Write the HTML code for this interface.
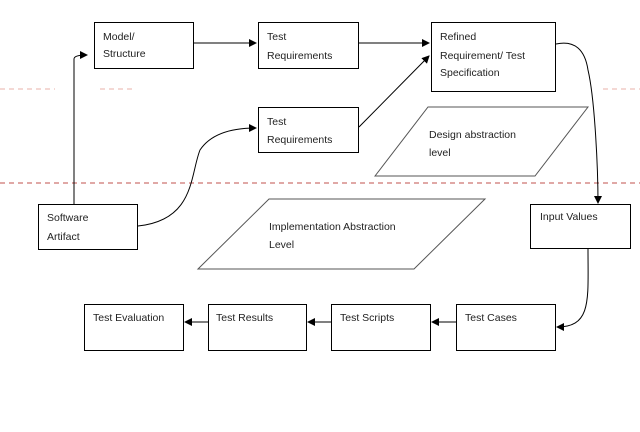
<!DOCTYPE html>
<html><head><style>
body{margin:0;background:#fff;}
svg text{font-family:"Liberation Sans",sans-serif;font-size:10.5px;fill:#222;}
</style></head><body>
<svg width="640" height="427" viewBox="0 0 640 427" xmlns="http://www.w3.org/2000/svg">
<defs><marker id="a" markerWidth="8" markerHeight="8" refX="7" refY="4" orient="auto" markerUnits="userSpaceOnUse"><path d="M0,0 L8,4 L0,8 z" fill="#000"/></marker></defs>
<g stroke="#e8b0a8" stroke-dasharray="5,4" stroke-width="1">
<line x1="0" y1="89" x2="55" y2="89"/><line x1="100" y1="89" x2="135" y2="89"/><line x1="603" y1="89" x2="640" y2="89"/>
</g>
<line x1="0" y1="183" x2="640" y2="183" stroke="#c0504d" stroke-dasharray="5,4" stroke-width="1"/>
<g fill="#fff" stroke="#000" stroke-width="1">
<rect x="94.5" y="22.5" width="99" height="46"/>
<rect x="258.5" y="22.5" width="100" height="46"/>
<rect x="431.5" y="22.5" width="124" height="69"/>
<rect x="258.5" y="107.5" width="100" height="45"/>
<rect x="38.5" y="204.5" width="99" height="45"/>
<rect x="530.5" y="204.5" width="100" height="44"/>
<rect x="84.5" y="304.5" width="99" height="46"/>
<rect x="208.5" y="304.5" width="98" height="46"/>
<rect x="331.5" y="304.5" width="99" height="46"/>
<rect x="456.5" y="304.5" width="99" height="46"/>
<polygon points="375,176 428,107 588,107 535,176" stroke="#555"/>
<polygon points="198,269 269,199 485,199 414,269" stroke="#555"/>
</g>
<g fill="none" stroke="#000" stroke-width="1">
<path d="M74,204 L74,59 Q74,55 87,55" marker-end="url(#a)"/>
<line x1="194" y1="43" x2="256" y2="43" marker-end="url(#a)"/>
<line x1="359" y1="43" x2="429" y2="43" marker-end="url(#a)"/>
<line x1="359" y1="127" x2="429" y2="56" marker-end="url(#a)"/>
<path d="M138,226 C195,220 190,175 200,150 C212,132 235,128 256,128" marker-end="url(#a)"/>
<path d="M556,44 C575,40 585,50 588,70 C595,100 598,170 598,203" marker-end="url(#a)"/>
<path d="M588,249 C588,300 592,327 557,327" marker-end="url(#a)"/>
<line x1="456" y1="322" x2="432" y2="322" marker-end="url(#a)"/>
<line x1="331" y1="322" x2="308" y2="322" marker-end="url(#a)"/>
<line x1="208" y1="322" x2="185" y2="322" marker-end="url(#a)"/>
</g>
<text x="103" y="40">Model/</text><text x="103" y="57">Structure</text>
<text x="267" y="40">Test</text><text x="267" y="59">Requirements</text>
<text x="440" y="40">Refined</text><text x="440" y="59">Requirement/ Test</text><text x="440" y="76">Specification</text>
<text x="267" y="125">Test</text><text x="267" y="143">Requirements</text>
<text x="429" y="138">Design abstraction</text><text x="429" y="156">level</text>
<text x="47" y="221">Software</text><text x="47" y="240">Artifact</text>
<text x="540" y="220">Input Values</text>
<text x="269" y="230">Implementation  Abstraction</text><text x="269" y="248">Level</text>
<text x="93" y="321">Test Evaluation</text>
<text x="216" y="321">Test Results</text>
<text x="340" y="321">Test Scripts</text>
<text x="465" y="321">Test Cases</text>
</svg>
</body></html>
